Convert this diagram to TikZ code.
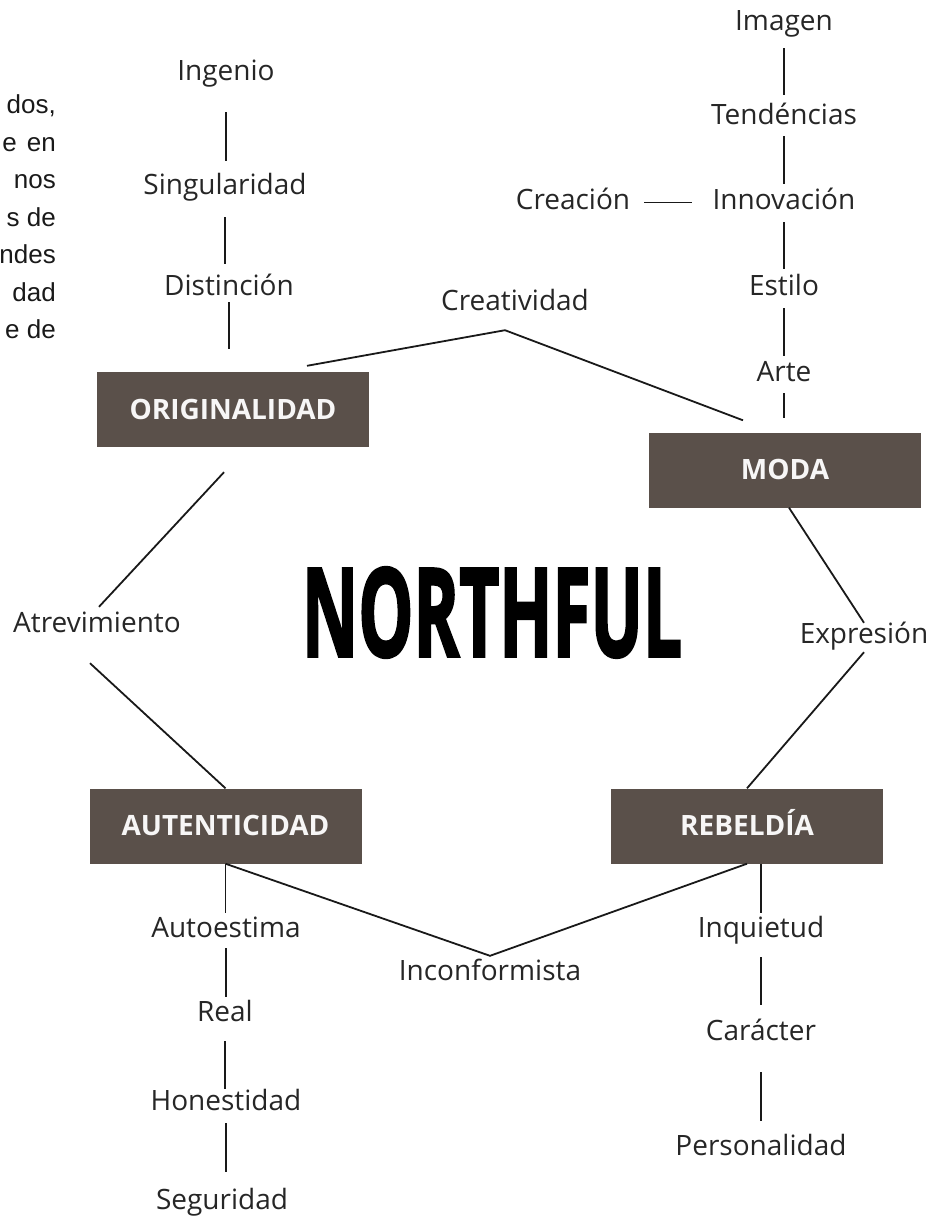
\documentclass[tikz,border=0pt]{standalone}
\usepackage{fontspec}
\usepackage{graphicx}
\setmainfont{Open Sans}
\newfontfamily\fragfont{Liberation Sans}
\newfontfamily\titlefont{Open Sans}[BoldFeatures={FakeBold=2.5}]
\definecolor{boxbrown}{RGB}{90,80,74}
\definecolor{inkgray}{RGB}{38,38,38}

\begin{document}
\begin{tikzpicture}[x=1pt, y=-1pt,
  word/.style={anchor=base, inner sep=0pt, text height=20pt, text depth=7pt, text=inkgray, font=\fontsize{28}{32}\selectfont},
  block/.style={fill=boxbrown, minimum width=272pt, minimum height=75pt, inner sep=0pt, text height=19pt, text depth=0pt, text=white!95!boxbrown, font=\fontsize{28}{32}\selectfont\bfseries},
  link/.style={line width=1.8pt, draw=black!90},
  frag/.style={anchor=base east, inner sep=0pt, text=black!90, font=\fragfont\fontsize{26}{30}\selectfont}]
\useasboundingbox (0,0) rectangle (933,1216);

\node[frag] (frag1) at (56,113) {dos,};
\node[frag] (frag2) at (56,151) {e\hspace{10pt}en};
\node[frag] (frag3) at (56,188) {nos};
\node[frag] (frag4) at (56,226) {s de};
\node[frag] (frag5) at (56,263) {ndes};
\node[frag] (frag6) at (56,301) {dad};
\node[frag] (frag7) at (56,338) {e de};

\node[block] (orig) at (233,409.5) {ORIGINALIDAD};
\node[block] (moda) at (785,470) {MODA};
\node[block] (aut) at (225.5,826) {AUTENTICIDAD};
\node[block] (reb) at (747,826) {REBELDÍA};

\node[inner sep=0pt] (northful) at (492,612.5) {\resizebox{380pt}{89pt}{\titlefont\bfseries NORTHFUL}};

\node[word] (ingenio) at (226,80) {Ingenio};
\node[word] (singular) at (225,194) {Singularidad};
\node[word] (distincion) at (229,295) {Distinción};
\node[word] (creatividad) at (515,310) {Creatividad};
\node[word] (imagen) at (784,30) {Imagen};
\node[word] (tendencias) at (784,124) {Tendéncias};
\node[word] (innovacion) at (784,209) {Innovación};
\node[word] (creacion) at (573,209) {Creación};
\node[word] (estilo) at (784,295) {Estilo};
\node[word] (arte) at (784,381) {Arte};
\node[word] (atrev) at (97,632) {Atrevimiento};
\node[word] (expresion) at (864,643) {Expresión};
\node[word] (autoestima) at (226,937) {Autoestima};
\node[word] (real) at (225,1021) {Real};
\node[word] (honestidad) at (226,1110) {Honestidad};
\node[word] (seguridad) at (222,1209) {Seguridad};
\node[word] (inconf) at (490,980) {Inconformista};
\node[word] (inquietud) at (761,937) {Inquietud};
\node[word] (caracter) at (761,1040) {Carácter};
\node[word] (personal) at (761,1155) {Personalidad};

\draw[link, shorten <=25pt, shorten >=13pt] (ingenio.south) -- (ingenio.south |- singular.north);
\draw[link, shorten <=16pt, shorten >=11pt] (singular.south) -- (singular.south |- distincion.north);
\draw[link, shorten >=23pt] (distincion.south) -- (distincion.south |- orig.north);
\draw[link, shorten <=11pt, shorten >=9pt] (imagen.south) -- (imagen.south |- tendencias.north);
\draw[link, shorten <=5pt, shorten >=5pt] (tendencias.south) -- (tendencias.south |- innovacion.north);
\draw[link, shorten <=6pt, shorten >=6pt] (innovacion.south) -- (innovacion.south |- estilo.north);
\draw[link, shorten <=6pt, shorten >=5pt] (estilo.south) -- (estilo.south |- arte.north);
\draw[link, shorten <=5pt, shorten >=14pt] (arte.south) -- (arte.south |- moda.north);
\draw[link, shorten <=14pt, shorten >=20pt] (creacion.east) -- (innovacion.west);
\draw[link, shorten >=4pt] (aut.south) -- (aut.south |- autoestima.north);
\draw[link, shorten <=4pt, shorten >=4pt] (autoestima.south) -- (autoestima.south |- real.north);
\draw[link, shorten <=13pt, shorten >=1pt] (real.south) -- (real.south |- honestidad.north);
\draw[link, shorten <=6pt, shorten >=17pt] (honestidad.south) -- (honestidad.south |- seguridad.north);
\draw[link, shorten >=4pt] ([xshift=14pt]reb.south) -- (inquietud.north);
\draw[link, shorten <=13pt, shorten >=15pt] (inquietud.south) -- (caracter.north);
\draw[link, shorten <=25pt, shorten >=14pt] (caracter.south) -- (personal.north);

\draw[link] ([xshift=74pt, yshift=6pt]orig.north) -- ([xshift=-10pt, yshift=-13pt]creatividad.south) -- ([xshift=-42pt, yshift=12pt]moda.north);
\draw[link] ([xshift=-9pt, yshift=-25pt]orig.south) -- ([xshift=2pt, yshift=5pt]atrev.north);
\draw[link] ([xshift=-7pt, yshift=-24pt]atrev.south) -- (aut.north);
\draw[link] ([xshift=4pt]moda.south) -- (expresion.north);
\draw[link] ([yshift=-2pt]expresion.south) -- (reb.north);
\draw[link] (aut.south) -- ([yshift=4pt]inconf.north) -- (reb.south);
\end{tikzpicture}
\end{document}
